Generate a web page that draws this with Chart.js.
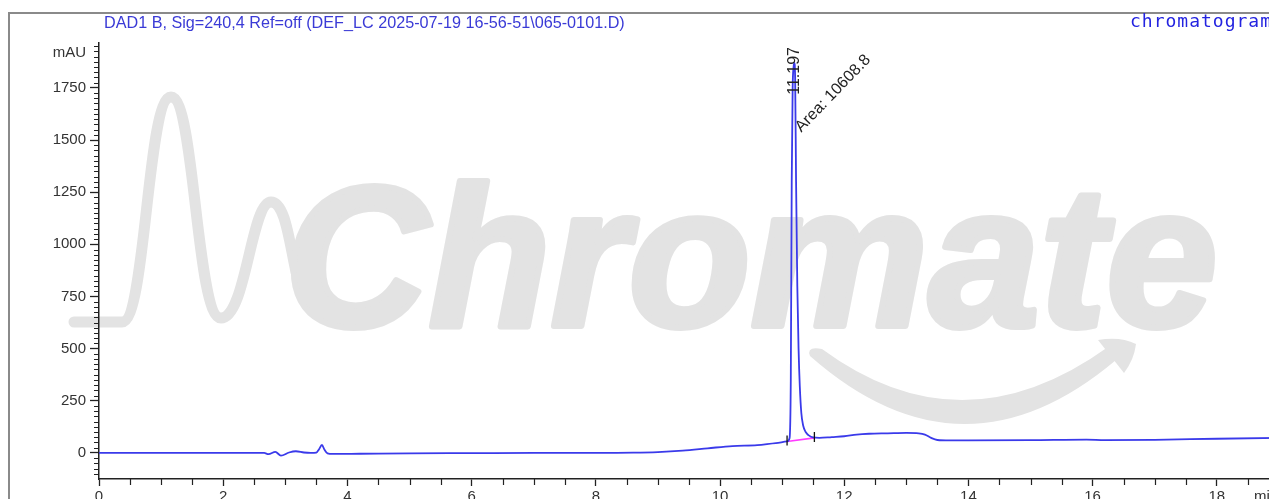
<!DOCTYPE html>
<html><head><meta charset="utf-8">
<script src="https://cdn.jsdelivr.net/npm/chart.js@4.4.1/dist/chart.umd.min.js"></script>
<style>
html,body{margin:0;padding:0;background:#fff;overflow:hidden;width:1269px;height:499px;}
#wrap{position:absolute;left:0;top:0;width:1340px;height:520px;}
canvas{display:block;}
</style></head><body>
<div id="wrap"><canvas id="c" width="1340" height="520"></canvas></div>
<script>
// ---- data ----
const timeMin = [0, 2.6, 2.66, 2.73, 2.84, 2.93, 3.06, 3.17, 3.3, 3.41, 3.5, 3.54, 3.59, 3.63, 3.68, 3.76, 4.2, 5.0, 6.0, 7.0, 8.0, 8.6, 9.0, 9.4, 9.8, 10.2, 10.6, 10.9, 11.08, 11.12, 11.14, 11.155, 11.17, 11.185, 11.197, 11.21, 11.225, 11.245, 11.265, 11.285, 11.31, 11.34, 11.38, 11.43, 11.5, 11.6, 11.8, 12.0, 12.2, 12.4, 12.7, 13.0, 13.2, 13.3, 13.4, 13.5, 13.7, 14.0, 15.0, 15.9, 16.2, 17.0, 18.0, 19.0, 19.6];
const signal = [0, 0, 0, -6, 5, -13, 2, 8, 2, 0, 2, 16, 38, 16, -2, -5, -4, -2, -1, 0, 0, 1, 4, 11, 22, 33, 37, 47, 55, 70, 350, 1300, 1750, 1850, 1870, 1800, 1300, 800, 500, 320, 190, 130, 100, 84, 74, 72, 76, 80, 88, 92, 94, 96, 94, 88, 72, 62, 60, 60, 61, 64, 61, 63, 68, 72, 74];
const baselineTime = [11.08, 11.52];
const baselineSignal = [55, 72];
const xTickValues = [0, 2, 4, 6, 8, 10, 12, 14, 16, 18];
const yTickValues = [0, 250, 500, 750, 1000, 1250, 1500, 1750];
const retentionTime = 11.197;
const apexSignal = 1870;
const peakAreaLabel = 'Area: 10608.8';
const titleText = 'DAD1 B, Sig=240,4 Ref=off (DEF_LC 2025-07-19 16-56-51\\065-0101.D)';
const cornerText = 'chromatogram';
const yUnit = 'mAU';
const xUnit = 'min';

// ---- layout ----
const W = 1340, H = 520;
const X_MIN = 0, X_MAX = 19.6, Y_MIN = -125, Y_MAX = 1965;
const LEFT = 99, TOP = 43, BOTTOM = 479;
const RIGHT = LEFT + 62.1 * (X_MAX - X_MIN);
const FONT = '"Liberation Sans", Arial, sans-serif';
const WM = '#e3e3e3';

function drawWatermark(ctx) {
  ctx.save();
  // chromatogram-like stroke
  ctx.strokeStyle = WM; ctx.lineWidth = 11; ctx.lineCap = 'round'; ctx.lineJoin = 'round';
  ctx.beginPath();
  ctx.moveTo(74, 322); ctx.lineTo(122, 322);
  ctx.bezierCurveTo(146, 322, 147, 97, 171, 97);
  ctx.bezierCurveTo(195, 97, 196, 318, 221, 318);
  ctx.bezierCurveTo(246, 318, 251, 202, 271, 202);
  ctx.bezierCurveTo(285, 202, 289, 240, 296, 272);
  ctx.stroke();
  // word
  ctx.fillStyle = WM;
  ctx.font = 'italic bold 200px ' + FONT;
  ctx.textBaseline = 'alphabetic'; ctx.textAlign = 'left';
  ctx.lineWidth = 6; ctx.strokeStyle = WM;
  ctx.fillText('Chromate', 284, 326);
  ctx.strokeText('Chromate', 284, 326);
  // smile arrow
  ctx.beginPath();
  ctx.moveTo(810, 356);
  ctx.quadraticCurveTo(962, 490, 1116, 360);
  ctx.lineTo(1108, 347);
  ctx.quadraticCurveTo(962, 452, 822, 349);
  ctx.quadraticCurveTo(806, 346, 810, 356);
  ctx.closePath(); ctx.fill();
  ctx.beginPath();
  ctx.moveTo(1098, 340); ctx.quadraticCurveTo(1120, 336, 1136, 344);
  ctx.quadraticCurveTo(1134, 360, 1124, 373);
  ctx.closePath(); ctx.fill();
  ctx.restore();
}

const decor = {
  id: 'decor',
  beforeDraw(chart) { drawWatermark(chart.ctx); },
  afterDraw(chart) {
    const ctx = chart.ctx, xs = chart.scales.x, ys = chart.scales.y;
    ctx.save();
    // minor ticks
    ctx.strokeStyle = '#222'; ctx.lineWidth = 1.2;
    ctx.beginPath();
    for (let v = -100; v <= Y_MAX; v += 25) {
      if (v % 250 === 0) continue;
      const y = Math.round(ys.getPixelForValue(v)) + 0.5;
      ctx.moveTo(LEFT - 5, y); ctx.lineTo(LEFT, y);
    }
    for (let t = 0.5; t <= X_MAX; t += 0.5) {
      if (t % 2 === 0) continue;
      const x = Math.round(xs.getPixelForValue(t)) + 0.5;
      ctx.moveTo(x, BOTTOM); ctx.lineTo(x, BOTTOM + 6);
    }
    ctx.stroke();
    // peak start/end markers
    ctx.strokeStyle = '#111'; ctx.lineWidth = 1.3;
    ctx.beginPath();
    baselineTime.forEach((t, i) => {
      const x = xs.getPixelForValue(t), y = ys.getPixelForValue(baselineSignal[i]);
      ctx.moveTo(x, y - 6); ctx.lineTo(x, y + 4);
    });
    ctx.stroke();
    // unit labels
    ctx.fillStyle = '#333';
    ctx.font = '15px ' + FONT;
    ctx.textAlign = 'right'; ctx.textBaseline = 'middle';
    ctx.fillText(yUnit, 86, ys.getPixelForValue(1920));
    ctx.textAlign = 'left'; ctx.textBaseline = 'top';
    ctx.fillText(xUnit, xs.getPixelForValue(18.6), BOTTOM + 10);
    // peak annotations
    const ax = xs.getPixelForValue(retentionTime), ay = ys.getPixelForValue(apexSignal);
    ctx.fillStyle = '#222';
    ctx.font = '16px ' + FONT;
    ctx.save();
    ctx.translate(ax + 0.5, ay + 32);
    ctx.rotate(-Math.PI / 2);
    ctx.textAlign = 'left'; ctx.textBaseline = 'middle';
    ctx.fillText(retentionTime.toFixed(3), 0, 0);
    ctx.restore();
    ctx.save();
    ctx.translate(ax + 7, ys.getPixelForValue(1535));
    ctx.rotate(-46 * Math.PI / 180);
    ctx.textAlign = 'left'; ctx.textBaseline = 'alphabetic';
    ctx.fillText(peakAreaLabel, 0, 0);
    ctx.restore();
    // frame
    ctx.strokeStyle = '#8a8a8a'; ctx.lineWidth = 2;
    ctx.beginPath();
    ctx.moveTo(9, H); ctx.lineTo(9, 13); ctx.lineTo(W, 13);
    ctx.stroke();
    // title
    ctx.fillStyle = '#3a3ad6';
    ctx.font = '16px ' + FONT;
    const w = ctx.measureText(titleText).width;
    const fs = 16 * 521 / w;
    ctx.font = fs.toFixed(2) + 'px ' + FONT;
    ctx.textAlign = 'left'; ctx.textBaseline = 'alphabetic';
    ctx.fillText(titleText, 104, 28);
    ctx.fillStyle = '#2424e0';
    ctx.font = '18px "DejaVu Sans Mono", monospace';
    ctx.letterSpacing = '1px';
    ctx.fillText(cornerText, 1130, 27);
    ctx.restore();
  }
};

new Chart(document.getElementById('c'), {
  type: 'line',
  data: {
    datasets: [
      { data: timeMin.map((t, i) => ({ x: t, y: signal[i] })), borderColor: '#3a3aea', borderWidth: 1.8,
        pointRadius: 0, cubicInterpolationMode: 'monotone', fill: false, order: 1 },
      { data: baselineTime.map((t, i) => ({ x: t, y: baselineSignal[i] })), borderColor: '#ff3cff', borderWidth: 1.6,
        pointRadius: 0, fill: false, order: 2 }
    ]
  },
  options: {
    responsive: false, animation: false, devicePixelRatio: 1,
    layout: { padding: { top: TOP, right: W - RIGHT, left: 0, bottom: 0 } },
    plugins: { legend: { display: false }, tooltip: { enabled: false } },
    scales: {
      x: {
        type: 'linear', min: X_MIN, max: X_MAX,
        afterBuildTicks: s => { s.ticks = xTickValues.map(v => ({ value: v })); },
        afterFit: s => { s.height = H - BOTTOM; },
        ticks: { font: { family: FONT, size: 15 }, color: '#333', padding: 2, maxRotation: 0, autoSkip: false,
                 callback: v => String(v) },
        grid: { drawOnChartArea: false, tickLength: 7, tickColor: '#222', tickWidth: 1.3 },
        border: { color: '#222', width: 1.5 }
      },
      y: {
        type: 'linear', min: Y_MIN, max: Y_MAX,
        afterBuildTicks: s => { s.ticks = yTickValues.map(v => ({ value: v })); },
        afterFit: s => { s.width = LEFT; },
        ticks: { font: { family: FONT, size: 15 }, color: '#333', padding: 4, callback: v => String(v) },
        grid: { drawOnChartArea: false, tickLength: 9, tickColor: '#222', tickWidth: 1.3 },
        border: { color: '#222', width: 1.5 }
      }
    }
  },
  plugins: [decor]
});
</script>
</body></html>
